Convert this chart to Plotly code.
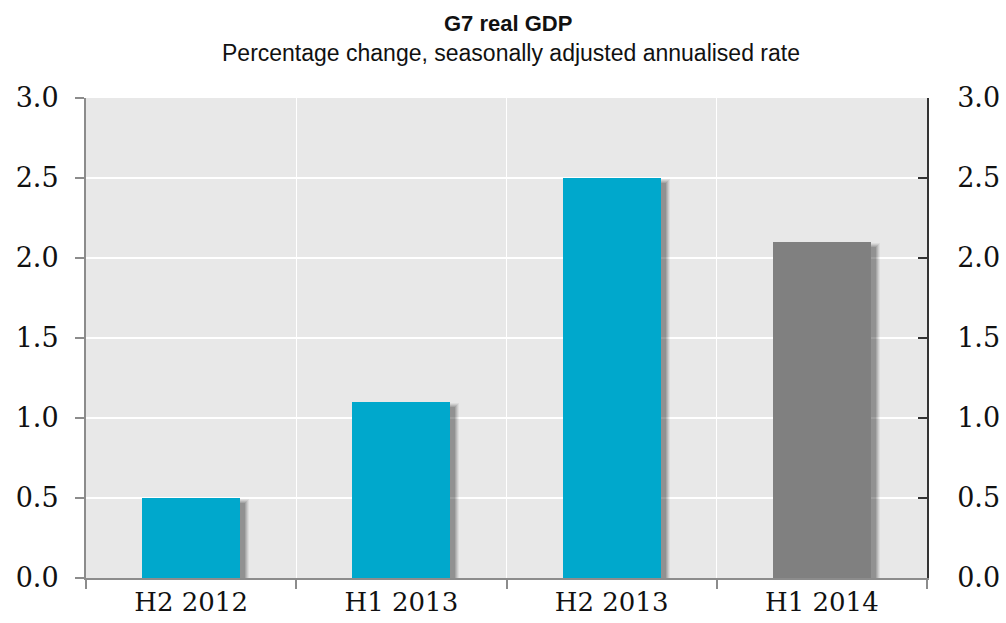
import plotly.graph_objects as go

# G7 real GDP, % change, seasonally adjusted annualised rate
periods = ["H2 2012", "H1 2013", "H2 2013", "H1 2014"]
growth = [0.5, 1.1, 2.5, 2.1]
bar_colors = ["#00A8CC", "#00A8CC", "#00A8CC", "#808080"]
y_ticks = [0.0, 0.5, 1.0, 1.5, 2.0, 2.5, 3.0]

positions = list(range(len(periods)))
bar_width = 0.467

# pixel -> data unit helpers (plot area ~841 x 480 px)
px_x = 4.0 / 841.0
px_y = 3.0 / 480.0

fig = go.Figure()

# soft drop shadow built from a few translucent, progressively wider layers
for e, alpha in [(4, 0.05), (3, 0.07), (2, 0.09), (1, 0.10), (0, 0.12)]:
    fig.add_trace(go.Bar(
        x=positions,
        y=[v - 5 * px_y + e * px_y for v in growth],
        width=[bar_width + 2 * e * px_x] * len(growth),
        offset=[-bar_width / 2 + 5 * px_x - e * px_x] * len(growth),
        marker=dict(color=f"rgba(0,0,0,{alpha})", line=dict(width=0)),
        hoverinfo="skip",
        showlegend=False,
    ))

fig.add_trace(go.Bar(
    x=positions,
    y=growth,
    width=[bar_width] * len(growth),
    marker=dict(color=bar_colors, line=dict(width=0)),
    showlegend=False,
))

# invisible trace anchoring the secondary (label / right) axes
fig.add_trace(go.Scatter(
    x=positions, y=growth, xaxis="x2", yaxis="y2",
    mode="markers", marker=dict(opacity=0), hoverinfo="skip", showlegend=False,
))

tick_font = dict(family="DejaVu Serif", size=27, color="#111111")
x_label_font = dict(family="DejaVu Serif", size=26, color="#111111")
boundaries = [p - 0.5 for p in positions] + [positions[-1] + 0.5]

fig.update_layout(
    width=1006,
    height=623,
    margin=dict(l=86, r=79, t=98, b=45),
    paper_bgcolor="white",
    plot_bgcolor="#E8E8E8",
    barmode="overlay",
    bargap=0,
    xaxis=dict(
        range=[-0.5, len(periods) - 0.5],
        tickvals=boundaries,
        showticklabels=False,
        ticks="outside", ticklen=9, tickcolor="#8C8C8C", tickwidth=2,
        showgrid=True, gridcolor="white", gridwidth=1,
        showline=True, linecolor="#8C8C8C", linewidth=2,
        zeroline=False, fixedrange=True, automargin=False,
    ),
    xaxis2=dict(
        overlaying="x", side="bottom",
        range=[-0.5, len(periods) - 0.5],
        tickvals=positions, ticktext=periods,
        ticks="", showgrid=False, showline=False, zeroline=False,
        tickfont=x_label_font, ticklabelstandoff=6, automargin=False,
    ),
    yaxis=dict(
        range=[0, 3.0],
        tickvals=y_ticks, tickformat=".1f",
        ticks="outside", ticklen=9, tickcolor="#8C8C8C", tickwidth=2,
        showgrid=True, gridcolor="white", gridwidth=1.5,
        showline=True, linecolor="#8C8C8C", linewidth=2,
        zeroline=False, tickfont=tick_font, ticklabelstandoff=11,
        automargin=False,
    ),
    yaxis2=dict(
        overlaying="y", side="right", anchor="x",
        range=[0, 3.0],
        tickvals=y_ticks, tickformat=".1f",
        ticks="inside", ticklen=9, tickcolor="#333333", tickwidth=1.5,
        showgrid=False, showline=True, linecolor="#333333", linewidth=1.5,
        zeroline=False, tickfont=tick_font, ticklabelstandoff=23,
        automargin=False,
    ),
    annotations=[
        dict(text="<b>G7 real GDP</b>", xref="paper", yref="paper",
             x=(508 - 86) / 841, y=1 + (98 - 24) / 480, xanchor="center", yanchor="middle",
             showarrow=False, font=dict(family="Liberation Sans", size=22, color="#111111")),
        dict(text="Percentage change, seasonally adjusted annualised rate",
             xref="paper", yref="paper",
             x=(511 - 86) / 841, y=1 + (98 - 53) / 480, xanchor="center", yanchor="middle",
             showarrow=False, font=dict(family="Liberation Sans", size=23, color="#111111")),
    ],
)

fig.write_html("out.html")
